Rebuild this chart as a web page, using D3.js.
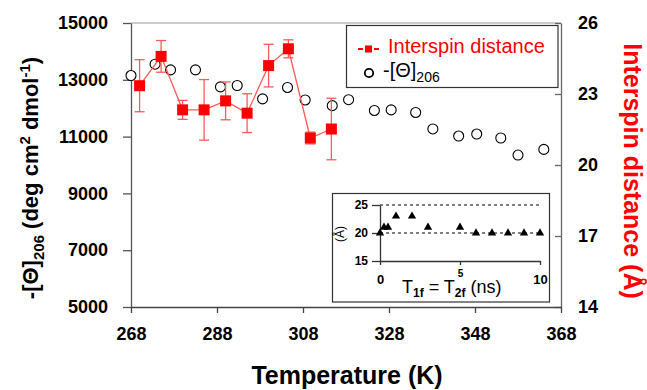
<!DOCTYPE html>
<html>
<head>
<meta charset="utf-8">
<script src="https://cdn.jsdelivr.net/npm/d3@7/dist/d3.min.js"></script>
<style>
  html, body { margin: 0; padding: 0; background: #fff; }
  svg { display: block; font-family: "Liberation Sans", Arial, sans-serif; }
</style>
</head>
<body>
<svg id="chart" width="647" height="390"></svg>
<script>
// Ellipticity at 206 nm versus temperature
const thetaTemp = [268, 273.6, 277.2, 283, 288.8, 292.7, 298.6, 304.4, 308.5, 314.8,
                   318.6, 324.6, 328.5, 334.2, 338.2, 344.2, 348.4, 354, 358, 364];
const thetaVal = [13150, 13550, 13350, 13350, 12750, 12800, 12330, 12730, 12290, 12090,
                  12300, 11920, 11940, 11850, 11270, 11020, 11090, 10950, 10350, 10550];

// Interspin distance (Å) with error bars
const distTemp = [270, 275, 280, 285, 290, 295, 300, 304.6, 309.7, 314.6];
const distVal = [23.35, 24.59, 22.33, 22.33, 22.71, 22.19, 24.2, 24.91, 21.14, 21.52];
const distErr = [1.1, 0.67, 0.4, 1.28, 0.8, 0.82, 0.9, 0.38, 0.25, 1.3];

// Inset: distance versus relaxation time
const insetTime = [0, 0.25, 0.5, 1, 2, 3, 5, 6, 7, 8, 9, 10];
const insetDist = [20, 21, 21, 23, 23, 21, 21, 20, 20, 20, 20, 20];

const xTicks = [268, 288, 308, 328, 348, 368];
const yLeftTicks = [5000, 7000, 9000, 11000, 13000, 15000];
const yRightTicks = [14, 17, 20, 23, 26];
const insetYTicks = [15, 20, 25];
const insetRefLines = [20, 25];

const svg = d3.select("#chart");
const L = 131, R = 561, T = 23, B = 307;

const x = d3.scaleLinear().domain([268, 368]).range([L, R]);
const yL = d3.scaleLinear().domain([5000, 15000]).range([B, T]);
const yR = d3.scaleLinear().domain([14, 26]).range([B, T]);

const red = "#ff0000", pale = "#ff5a5a";

// top frame line
svg.append("line").attr("x1", L).attr("x2", R).attr("y1", T).attr("y2", T)
  .attr("stroke", "#9a9a9a").attr("stroke-width", 1.2);

function styleAxis(g, color) {
  g.select(".domain").attr("stroke", color).attr("stroke-width", 1.3);
  g.selectAll(".tick line").attr("stroke", color).attr("stroke-width", 1.3);
  g.selectAll(".tick text").attr("fill", "#000").attr("font-weight", "bold")
    .attr("font-size", 18).attr("font-family", "Liberation Sans, Arial, sans-serif");
}

// left axis
const gL = svg.append("g").attr("transform", `translate(${L},0)`)
  .call(d3.axisLeft(yL).tickValues(yLeftTicks).tickSize(8).tickSizeOuter(0).tickPadding(15).tickFormat(d3.format("d")));
styleAxis(gL, "#555");

// right axis (ticks inward)
const gR = svg.append("g").attr("transform", `translate(${R},0)`)
  .call(d3.axisRight(yR).tickValues(yRightTicks).tickSize(-6).tickSizeOuter(0).tickPadding(17));
styleAxis(gR, "#666");
gR.selectAll(".tick text").attr("x", 17);

// bottom axis
const gB = svg.append("g").attr("transform", `translate(0,${B})`)
  .call(d3.axisBottom(x).tickValues(xTicks).tickSize(6).tickSizeOuter(0).tickPadding(14).tickFormat(d3.format("d")));
styleAxis(gB, "#444");

// ellipticity circles
svg.append("g").selectAll("circle").data(thetaTemp).join("circle")
  .attr("cx", (d) => x(d)).attr("cy", (d, i) => yL(thetaVal[i])).attr("r", 5)
  .attr("fill", "#fff").attr("stroke", "#000").attr("stroke-width", 1.1);

// interspin distance: line, error bars, squares
const distPts = distTemp.map((t, i) => ({ t, v: distVal[i], e: distErr[i] }));
svg.append("path").datum(distPts)
  .attr("d", d3.line().x((d) => x(d.t)).y((d) => yR(d.v)))
  .attr("fill", "none").attr("stroke", pale).attr("stroke-width", 1.3);

const eb = svg.append("g").attr("stroke", pale).attr("stroke-width", 1.3);
distPts.forEach((d) => {
  const cx = x(d.t), y1 = yR(d.v + d.e), y2 = yR(d.v - d.e);
  eb.append("line").attr("x1", cx).attr("x2", cx).attr("y1", y1).attr("y2", y2);
  eb.append("line").attr("x1", cx - 5).attr("x2", cx + 5).attr("y1", y1).attr("y2", y1);
  eb.append("line").attr("x1", cx - 5).attr("x2", cx + 5).attr("y1", y2).attr("y2", y2);
});
const sq = 11;
svg.append("g").selectAll("rect").data(distPts).join("rect")
  .attr("x", (d) => x(d.t) - sq / 2).attr("y", (d) => yR(d.v) - sq / 2)
  .attr("width", sq).attr("height", sq).attr("fill", red);

// legend
const lg = svg.append("g");
lg.append("rect").attr("x", 346.5).attr("y", 25.5).attr("width", 211.5).attr("height", 62)
  .attr("fill", "#fff").attr("stroke", "#333").attr("stroke-width", 1.2);
lg.append("line").attr("x1", 358).attr("x2", 363).attr("y1", 49).attr("y2", 49).attr("stroke", red).attr("stroke-width", 2);
lg.append("line").attr("x1", 374).attr("x2", 379).attr("y1", 49).attr("y2", 49).attr("stroke", red).attr("stroke-width", 2);
lg.append("rect").attr("x", 365).attr("y", 45.5).attr("width", 7).attr("height", 7).attr("fill", red);
lg.append("text").attr("x", 388).attr("y", 53).attr("font-size", 20).attr("fill", red)
  .text("Interspin distance");
lg.append("circle").attr("cx", 369).attr("cy", 73).attr("r", 4.2)
  .attr("fill", "#fff").attr("stroke", "#000").attr("stroke-width", 1.8);
const lt = lg.append("text").attr("x", 383).attr("y", 77).attr("font-size", 20).attr("fill", "#000");
lt.append("tspan").text("-[Θ]");
lt.append("tspan").attr("font-size", 14).attr("dy", 5).text("206");

// axis titles
const tl = svg.append("text").attr("transform", "translate(38,178) rotate(-90)")
  .attr("text-anchor", "middle").attr("font-size", 22).attr("font-weight", "bold").attr("fill", "#000");
tl.append("tspan").text("-[Θ]");
tl.append("tspan").attr("font-size", 15).attr("dy", 6).text("206");
tl.append("tspan").attr("dy", -6).text(" (deg cm");
tl.append("tspan").attr("font-size", 15).attr("dy", -8).text("2");
tl.append("tspan").attr("dy", 8).text(" dmol");
tl.append("tspan").attr("font-size", 15).attr("dy", -8).text("-1");
tl.append("tspan").attr("dy", 8).text(")");

svg.append("text").attr("transform", "translate(624,171) rotate(90)")
  .attr("text-anchor", "middle").attr("font-size", 25).attr("font-weight", "bold").attr("fill", red)
  .text("Interspin distance (Å)");

svg.append("text").attr("x", 347).attr("y", 384).attr("text-anchor", "middle")
  .attr("font-size", 25).attr("font-weight", "bold").attr("fill", "#000").text("Temperature (K)");

// inset
const ins = svg.append("g");
ins.append("rect").attr("x", 332.5).attr("y", 193.5).attr("width", 217).attr("height", 108.5)
  .attr("fill", "#fff").attr("stroke", "#333").attr("stroke-width", 1.2);
const ix = d3.scaleLinear().domain([0, 10]).range([380, 540]);
const iy = d3.scaleLinear().domain([15, 25]).range([261, 205]);

insetRefLines.forEach((v) => {
  ins.append("line").attr("x1", ix(0)).attr("x2", ix(10)).attr("y1", iy(v)).attr("y2", iy(v))
    .attr("stroke", "#000").attr("stroke-width", 1).attr("stroke-dasharray", "3,3");
});

const giL = ins.append("g").attr("transform", `translate(${ix(0)},0)`)
  .call(d3.axisLeft(iy).tickValues(insetYTicks).tickSize(8).tickSizeOuter(0).tickPadding(4));
styleAxis(giL, "#333");
giL.selectAll(".tick text").attr("font-size", 12);

const giB = ins.append("g").attr("transform", `translate(0,${iy(15)})`)
  .call(d3.axisBottom(ix).tickValues([0, 5, 10]).tickSize(4).tickSizeOuter(0).tickPadding(10));
styleAxis(giB, "#333");
giB.selectAll(".tick text").attr("font-size", 13);
giB.selectAll(".tick text").filter((d) => d === 5).attr("font-size", 10).attr("dy", "0.2em");

ins.append("text").attr("transform", "translate(344,234) rotate(-90)")
  .attr("text-anchor", "middle").attr("font-size", 12).attr("fill", "#000").text("(Å)");

const it = ins.append("text").attr("x", 402).attr("y", 293).attr("font-size", 18).attr("fill", "#000");
it.append("tspan").text("T");
it.append("tspan").attr("font-size", 12).attr("font-weight", "bold").attr("dy", 4).text("1f");
it.append("tspan").attr("dy", -4).text(" = T");
it.append("tspan").attr("font-size", 12).attr("font-weight", "bold").attr("dy", 4).text("2f");
it.append("tspan").attr("dy", -4).text(" (ns)");

const tri = d3.symbol().type(d3.symbolTriangle).size(30);
ins.append("g").selectAll("path").data(insetTime).join("path")
  .attr("transform", (d, i) => `translate(${ix(d)},${iy(insetDist[i])})`)
  .attr("d", tri).attr("fill", "#000");
</script>
</body>
</html>
